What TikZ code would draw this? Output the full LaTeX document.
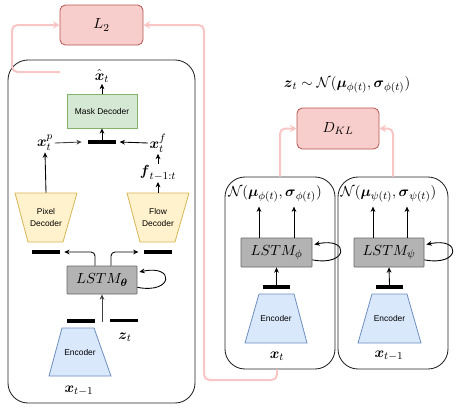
\documentclass[tikz,border=0pt]{standalone}
\usepackage{amsmath,amssymb}
\usepackage{fontspec}
\setsansfont{Liberation Sans}
\usetikzlibrary{arrows.meta,calc}
\definecolor{pinkF}{HTML}{F8CECC}
\definecolor{pinkD}{HTML}{B85450}
\definecolor{pinkL}{HTML}{F8C6C4}
\definecolor{greenF}{HTML}{D5E8D4}
\definecolor{greenD}{HTML}{82B366}
\definecolor{yelF}{HTML}{FFF2CC}
\definecolor{yelD}{HTML}{D6B656}
\definecolor{bluF}{HTML}{DAE8FC}
\definecolor{bluD}{HTML}{6C8EBF}
\definecolor{grayF}{HTML}{B3B3B3}
\definecolor{grayD}{HTML}{666666}
\tikzset{
 arr/.style={-{Stealth[length=4pt,width=3.6pt]}, line width=0.65pt},
 pinkarr/.style={-{Stealth[length=5pt,width=5.5pt]}, draw=pinkL, line width=1.5pt, rounded corners=4pt},
 pinkbox/.style={draw=pinkD, fill=pinkF, rounded corners=4pt, line width=0.6pt},
 lstmbox/.style={draw=grayD, fill=grayF, line width=0.6pt, rounded corners=0.5pt},
 panel/.style={draw=black!85, rounded corners=15pt, line width=0.65pt},
 bar/.style={fill=black, inner sep=0pt, minimum height=2.6pt},
 lbl/.style={inner sep=1pt, font=\fontsize{11}{13}\selectfont},
 sanslbl/.style={font=\sffamily\fontsize{6.3}{8}\selectfont, align=center, inner sep=0pt},
 greenbox/.style={draw=greenD, fill=greenF, line width=0.6pt},
 yeltrap/.style={draw=yelD, fill=yelF, line width=0.6pt},
 bluetrap/.style={draw=bluD, fill=bluF, line width=0.6pt},
}
\begin{document}
\begin{tikzpicture}[x=0.75pt,y=-0.75pt]
\useasboundingbox (0,0) rectangle (457,408);

% ---------- top losses ----------
\node[pinkbox, minimum width=62.25pt, minimum height=30pt, lbl] (L2) at (101.5,25) {$L_2$};
\node[pinkbox, minimum width=61.5pt, minimum height=30.75pt, lbl] (DKL) at (338,128.5) {$D_{KL}$};
\node[lbl] (zdist) at (347,85) {$\boldsymbol{z}_t\sim\mathcal{N}(\boldsymbol{\mu}_{\phi(t)},\boldsymbol{\sigma}_{\phi(t)})$};

% ---------- left panel ----------
\node[panel, minimum width=140.25pt, minimum height=257.25pt] (leftpanel) at (101.5,231.5) {};
\node[lbl] (xhat) at (102,76) {$\hat{\boldsymbol{x}}_t$};
\node[greenbox, minimum width=52.5pt, minimum height=25.5pt, sanslbl] (mask) at (102,111) {Mask Decoder};
\node[bar, minimum width=21pt] (barM) at (102,142) {};
\node[lbl] (xp) at (45,143) {$\boldsymbol{x}_t^p$};
\node[lbl] (xf) at (158,143) {$\boldsymbol{x}_t^f$};
\node[lbl] (flab) at (158,173) {$\boldsymbol{f}_{t-1:t}$};

\filldraw[yeltrap] (15,193) -- (77,193) -- (63,242) -- (28,242) -- cycle;
\node[sanslbl, minimum width=46.5pt, minimum height=36.75pt] (pixdec) at (46,217.5) {Pixel\\[1pt]Decoder};
\filldraw[yeltrap] (127,193) -- (189,193) -- (175,242) -- (140,242) -- cycle;
\node[sanslbl, minimum width=46.5pt, minimum height=36.75pt] (flowdec) at (158,217.5) {Flow\\[1pt]Decoder};

\node[bar, minimum width=21pt] (barPL) at (46,252) {};
\node[bar, minimum width=21pt] (barPR) at (158,252) {};
\node[lstmbox, minimum width=52.5pt, minimum height=21pt, lbl] (lstmT) at (102,280) {$LSTM_{\boldsymbol{\theta}}$};
\node[bar, minimum width=21pt] (barEL) at (81,321) {};
\node[bar, minimum width=21pt] (barEZ) at (124,320.5) {};
\coordinate (zin) at (102,322);
\node[lbl] (zt) at (125,337) {$\boldsymbol{z}_t$};
\filldraw[bluetrap] (62,328) -- (94,328) -- (111,376) -- (49,376) -- cycle;
\node[sanslbl, minimum width=46.5pt, minimum height=36pt] (encL) at (80,352) {Encoder};
\node[lbl] (xtm1L) at (79,391) {$\boldsymbol{x}_{t-1}$};

\draw[arr] (mask.north) -- (xhat.south);
\draw[arr] (barM.north) -- (mask.south);
\draw[arr, draw=black!75] (xp.east) -- ([xshift=-4.5pt]barM.west);
\draw[arr] (xf.west) -- ([xshift=2.5pt]barM.east);
\draw[arr] (flab.north) -- (xf.south);
\draw[arr] (flowdec.north) -- (flab.south);
\draw[arr] (pixdec.north) -- (xp.south);
\draw[arr, rounded corners=3pt] ($(lstmT.north)+(-7,0)$) |- ([xshift=3pt]barPL.east);
\draw[arr, rounded corners=3pt] ($(lstmT.north)+(9,0)$) |- ([xshift=-4pt]barPR.west);
\draw[arr] ([yshift=-5.5pt]lstmT.east) .. controls +(36,7) and +(36,-8) .. ([yshift=6pt,xshift=1.5pt]lstmT.east);
\draw[arr, draw=black!75] (zin) -- (lstmT.south);

% ---------- middle panel ----------
\node[panel, minimum width=82.5pt, minimum height=144pt] (midpanel) at (280,273) {};
\node[lbl] (Nphi) at (275,194) {$\mathcal{N}(\boldsymbol{\mu}_{\phi(t)},\boldsymbol{\sigma}_{\phi(t)})$};
\node[lstmbox, minimum width=53.25pt, minimum height=21.75pt, lbl] (lstmP) at (276.5,252.5) {$LSTM_{\phi}$};
\node[bar, minimum width=20.25pt] (barP) at (276.5,287) {};
\filldraw[bluetrap] (259,294) -- (294,294) -- (307,343) -- (245,343) -- cycle;
\node[sanslbl, minimum width=46.5pt, minimum height=36.75pt] (encM) at (276,318.5) {Encoder};
\node[lbl] (xt) at (277,356) {$\boldsymbol{x}_t$};
\draw[arr] ($(lstmP.north)+(-17.5,0)$) -- ++(0,-31);
\draw[arr] ($(lstmP.north)+(17.5,0)$) -- ++(0,-31);
\draw[arr] (barP.north) -- (lstmP.south);
\draw[arr] ([yshift=-5.5pt]lstmP.east) .. controls +(36,7) and +(36,-8) .. ([yshift=6pt,xshift=1.5pt]lstmP.east);

% ---------- right panel ----------
\node[panel, minimum width=82.5pt, minimum height=144pt] (rightpanel) at (393,273) {};
\node[lbl] (Npsi) at (388.5,194) {$\mathcal{N}(\boldsymbol{\mu}_{\psi(t)},\boldsymbol{\sigma}_{\psi(t)})$};
\node[lstmbox, minimum width=52.5pt, minimum height=21.75pt, lbl] (lstmS) at (389,252.5) {$LSTM_{\psi}$};
\node[bar, minimum width=20.25pt] (barS) at (389.5,287) {};
\filldraw[bluetrap] (372,294) -- (407,294) -- (421,343) -- (358,343) -- cycle;
\node[sanslbl, minimum width=46.5pt, minimum height=36.75pt] (encS) at (389.5,318.5) {Encoder};
\node[lbl] (xtm1R) at (389,356) {$\boldsymbol{x}_{t-1}$};
\draw[arr] ($(lstmS.north)+(-16,0)$) -- ++(0,-31);
\draw[arr] ($(lstmS.north)+(18,0)$) -- ++(0,-31);
\draw[arr] (barS.north) -- (lstmS.south);
\draw[arr] ([yshift=-5.5pt]lstmS.east) .. controls +(36,7) and +(36,-8) .. ([yshift=6pt,xshift=1.5pt]lstmS.east);

% ---------- pink connectors ----------
\coordinate (lstart) at (60,72);
\draw[pinkarr] (lstart) -- (12,72) -- (12,25) -- (L2.west);
\draw[pinkarr] (xt.south |- midpanel.south) -- (277,380) -- (204,380) -- (204,25) -- (L2.east);
\draw[pinkarr] (midpanel.north) |- (DKL.west);
\draw[pinkarr] (rightpanel.north) |- (DKL.east);
\end{tikzpicture}
\end{document}
